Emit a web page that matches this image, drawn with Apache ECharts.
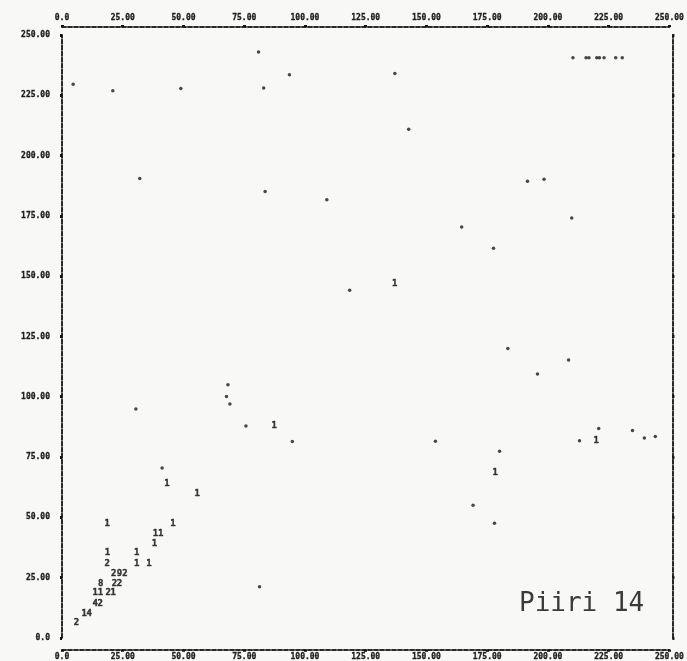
<!DOCTYPE html>
<html>
<head>
<meta charset="utf-8">
<script src="https://cdn.jsdelivr.net/npm/echarts@6/dist/echarts.min.js"></script>
<style>
html,body{margin:0;padding:0;background:#f8f8f6;}
#chart{width:687px;height:661px;}
</style>
</head>
<body>
<div id="chart"></div>
<script>
// Axis tick values (labels printed by the line printer)
const xTicks = [0, 25, 50, 75, 100, 125, 150, 175, 200, 225, 250];
const yTicks = [0, 25, 50, 75, 100, 125, 150, 175, 200, 225, 250];
const tickLabel = v => (v === 0 ? '0.0' : v.toFixed(2));

// Single plotted points (printed as dots)
const dotX = [4.6, 20.9, 48.9, 83.0, 80.9, 93.6, 137.0, 142.7, 32.0, 83.6, 109.0,
  210.3, 215.7, 216.9, 220.1, 221.2, 223.1, 227.9, 230.6,
  191.6, 198.4, 209.8, 164.5, 177.6, 118.4,
  68.3, 67.7, 69.1, 75.7, 94.8, 30.4, 153.7, 169.2, 81.3, 41.2,
  183.5, 208.5, 195.7, 220.9, 213.0, 234.8, 239.7, 244.2, 180.1, 178.0];
const dotY = [229.6, 226.9, 227.8, 228.0, 242.9, 233.5, 234.0, 210.9, 190.5, 185.1, 181.7,
  240.6, 240.6, 240.6, 240.6, 240.6, 240.6, 240.6, 240.6,
  189.4, 190.2, 174.1, 170.4, 161.6, 144.2,
  105.0, 100.1, 97.0, 87.9, 81.4, 94.9, 81.5, 55.0, 21.2, 70.4,
  120.0, 115.2, 109.4, 86.8, 81.7, 86.0, 82.9, 83.5, 77.4, 47.5];

// Cells printed with a case count digit
const cellX = [6.0, 9.1, 11.2, 13.7, 15.7, 13.7, 15.8, 19.0, 21.1, 15.9, 21.6, 23.6,
  21.3, 23.6, 25.9, 18.6, 18.7, 18.6, 30.8, 30.8, 35.8, 38.1, 38.5, 40.6, 45.7,
  43.2, 55.7, 87.3, 136.9, 178.3, 219.9];
const cellY = [6.1, 10.2, 10.2, 14.3, 14.3, 18.6, 18.6, 18.6, 18.6, 22.6, 22.6, 22.6,
  26.7, 26.7, 26.7, 30.9, 35.2, 47.2, 35.2, 30.9, 30.9, 39.1, 43.3, 43.3, 47.2,
  63.9, 59.8, 88.0, 147.0, 68.5, 81.7];
const cellN = ['2', '1', '4', '4', '2', '1', '1', '2', '1', '8', '2', '2',
  '2', '9', '2', '2', '1', '1', '1', '1', '1', '1', '1', '1', '1',
  '1', '1', '1', '1', '1', '1'];

const chart = echarts.init(document.getElementById('chart'), null, {renderer: 'canvas'});

const labelFont = {
  fontFamily: 'DejaVu Sans Mono',
  fontWeight: 'bold',
  fontSize: 8,
  color: '#1e1e1e',
  textBorderColor: '#1e1e1e',
  textBorderWidth: 0.3
};
const hLine = {color: '#2a2a2a', width: 2, type: [4, 2]};
const vLine = {color: '#2a2a2a', width: 2, type: [4, 2]};

const xAxisBase = {
  type: 'value', min: 0, max: 250, interval: 25,
  splitLine: {show: false},
  axisLine: {show: true, onZero: false, lineStyle: hLine},
  axisTick: {show: true, length: 2, lineStyle: {color: '#111', width: 3}},
  axisLabel: Object.assign({formatter: tickLabel, showMinLabel: true, showMaxLabel: true, hideOverlap: false}, labelFont)
};
const yAxisBase = {
  type: 'value', min: 0, max: 250, interval: 25,
  splitLine: {show: false},
  axisLine: {show: true, onZero: false, lineStyle: vLine},
  axisTick: {show: true, length: 2, lineStyle: {color: '#111', width: 3}},
  axisLabel: Object.assign({formatter: tickLabel, showMinLabel: true, showMaxLabel: true}, labelFont)
};

const option = {
  backgroundColor: '#f8f8f6',
  animation: false,
  grid: {left: 62, right: 10, top: 35, bottom: 23, containLabel: false},
  xAxis: [
    Object.assign({}, xAxisBase, {position: 'bottom', offset: 12,
      axisLabel: Object.assign({}, xAxisBase.axisLabel, {margin: 3})}),
    Object.assign({}, xAxisBase, {position: 'top', offset: 8,
      axisLabel: Object.assign({}, xAxisBase.axisLabel, {margin: 5})})
  ],
  yAxis: [
    Object.assign({}, yAxisBase, {position: 'left', offset: 0,
      axisLabel: Object.assign({}, yAxisBase.axisLabel, {margin: 12})}),
    Object.assign({}, yAxisBase, {position: 'right', offset: 3,
      axisLabel: {show: false}})
  ],
  graphic: [{
    type: 'text', left: 519, top: 591,
    style: {text: 'Piiri 14', font: '26px "DejaVu Sans Mono"', fill: '#3a3a3a'}
  }],
  series: [
    {
      type: 'scatter', name: 'points', xAxisIndex: 0, yAxisIndex: 0,
      symbol: 'circle', symbolSize: 3.5,
      itemStyle: {color: '#1a1a1a'},
      data: dotX.map((x, i) => [x, dotY[i]])
    },
    {
      type: 'scatter', name: 'counts', xAxisIndex: 0, yAxisIndex: 0,
      symbolSize: 0,
      data: cellX.map((x, i) => [x, cellY[i], cellN[i]]),
      label: {
        show: true, position: 'inside',
        formatter: p => p.data[2],
        fontFamily: 'DejaVu Sans Mono', fontWeight: 'bold', fontSize: 9, color: '#0e0e0e',
        textBorderColor: '#0e0e0e', textBorderWidth: 0.4
      }
    }
  ]
};
chart.setOption(option);
</script>
</body>
</html>
